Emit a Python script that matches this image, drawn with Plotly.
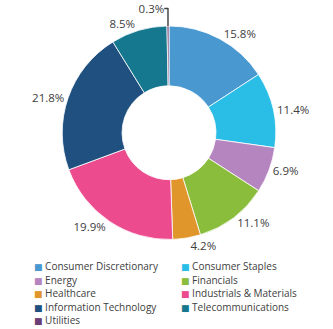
import plotly.graph_objects as go

sectors = ["Consumer Discretionary", "Consumer Staples", "Energy", "Financials",
           "Healthcare", "Industrials & Materials", "Information Technology",
           "Telecommunications", "Utilities"]
weights = [15.8, 11.4, 6.9, 11.1, 4.2, 19.9, 21.8, 8.5, 0.3]
colors = ["#4A98D0", "#2ABDE6", "#B585C0", "#8ABD3C", "#E0962B",
          "#EC4B8E", "#1F507F", "#15788F", "#6B3C75"]

W, H = 333, 329

fig = go.Figure(go.Pie(
    labels=sectors, values=weights, sort=False, direction="clockwise", rotation=0,
    hole=0.44,
    marker=dict(colors=colors, line=dict(color="white", width=0.8)),
    texttemplate="%{value:.1f}%", textposition="outside",
    textfont=dict(family="Open Sans", size=11.5, color="#404040"),
    domain=dict(x=[0.015, 1.0], y=[0.272, 0.921]),
    showlegend=False, automargin=False,
))

# legend drawn as text entries in two columns, in the reference's order
col_x = [32, 179]
row_y = [266, 279.5, 293, 306.5, 320]
for i, (name, col) in enumerate(zip(sectors, colors)):
    r, c = divmod(i, 2)
    fig.add_annotation(
        x=col_x[c] / W, y=1 - row_y[r] / H, xref="paper", yref="paper",
        xanchor="left", yanchor="middle", showarrow=False, align="left",
        text=f"<span style='color:{col};font-family:DejaVu Sans;font-size:9px'>■</span> {name}",
        font=dict(family="Open Sans", size=10, color="#404040"),
    )

fig.update_layout(
    width=W, height=H, margin=dict(l=0, r=0, t=0, b=0, pad=0, autoexpand=False),
    paper_bgcolor="white", plot_bgcolor="white",
    showlegend=False,
)
fig.write_html("out.html")
